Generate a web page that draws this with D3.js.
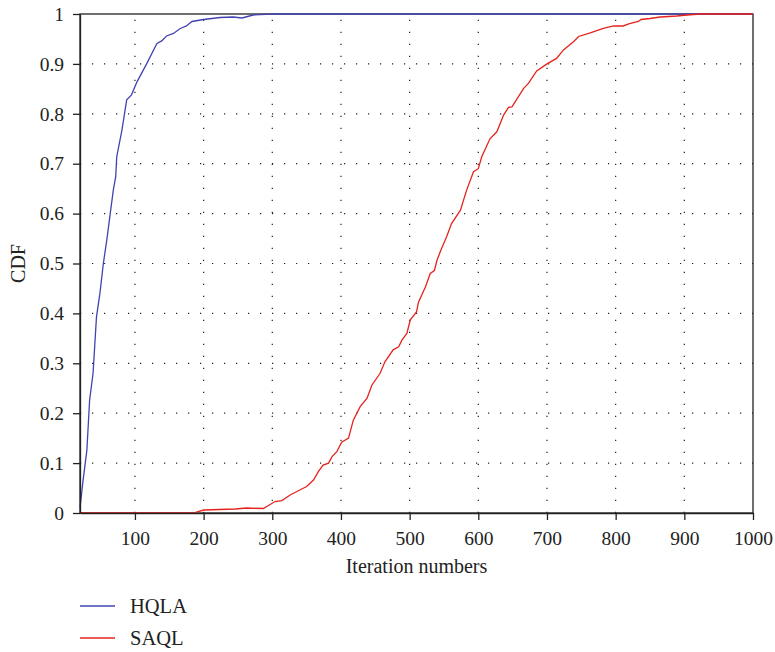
<!DOCTYPE html>
<html>
<head>
<meta charset="utf-8">
<script src="https://cdn.jsdelivr.net/npm/d3@7"></script>
<style>
  body { margin: 0; background: #fff; }
  text { font-family: "Liberation Serif", "DejaVu Serif", serif; fill: #222; }
</style>
</head>
<body>
<script>
// iterations / CDF
var hqlaX = [20, 24, 30, 34, 39, 44, 49, 54, 59, 64, 68.5, 72, 73.5, 81, 88, 95, 103, 117, 132, 139, 146, 156, 166, 175, 183, 200, 224, 243, 256, 272, 300, 1000];
var hqlaY = [0.01, 0.06, 0.126, 0.226, 0.28, 0.393, 0.44, 0.50, 0.547, 0.60, 0.647, 0.674, 0.714, 0.767, 0.828, 0.838, 0.864, 0.90, 0.941, 0.946, 0.956, 0.961, 0.971, 0.976, 0.985, 0.989, 0.993, 0.994, 0.992, 0.998, 1, 1];

var saqlX = [20, 185, 192, 200, 246, 263, 287, 292, 304, 314, 326, 340, 350, 360, 367, 374, 382, 387, 394, 401, 411, 418, 428, 438, 445, 457, 464, 476, 484, 489, 496, 501, 510, 513, 523, 530, 536, 540, 545, 554, 561, 574, 583, 593, 600, 605, 617, 627, 637, 644, 649, 666, 673, 685, 700, 714, 724, 739, 746, 763, 782, 797, 811, 819, 833, 837, 850, 865, 889, 904, 923, 1000];
var saqlY = [0, 0, 0.003, 0.006, 0.008, 0.010, 0.009, 0.013, 0.023, 0.025, 0.036, 0.046, 0.053, 0.066, 0.083, 0.096, 0.10, 0.113, 0.123, 0.142, 0.15, 0.186, 0.213, 0.23, 0.256, 0.28, 0.303, 0.327, 0.333, 0.347, 0.36, 0.387, 0.403, 0.423, 0.453, 0.48, 0.486, 0.507, 0.525, 0.554, 0.58, 0.607, 0.647, 0.684, 0.69, 0.714, 0.75, 0.764, 0.798, 0.813, 0.814, 0.851, 0.861, 0.886, 0.90, 0.911, 0.928, 0.945, 0.955, 0.962, 0.971, 0.976, 0.976, 0.98, 0.985, 0.989, 0.991, 0.994, 0.996, 0.998, 1, 1];

var xTicks = [100, 200, 300, 400, 500, 600, 700, 800, 900, 1000];
var yTicks = [0, 0.1, 0.2, 0.3, 0.4, 0.5, 0.6, 0.7, 0.8, 0.9, 1];

var series = [
  {name: "HQLA", xs: hqlaX, ys: hqlaY, color: "#4343b0"},
  {name: "SAQL", xs: saqlX, ys: saqlY, color: "#e5231e"}
];

var svgWidth = 775, svgHeight = 652;
var margin = {top: 14, right: 22, bottom: 139, left: 80};
var width = svgWidth - margin.left - margin.right;
var height = svgHeight - margin.top - margin.bottom;

var svg = d3.select("body")
    .append("svg")
    .attr("width", svgWidth)
    .attr("height", svgHeight);

var g = svg.append("g")
    .attr("transform", "translate(" + margin.left + "," + margin.top + ")");

var x = d3.scaleLinear().domain([20, 1000]).range([0, width]);
var y = d3.scaleLinear().domain([0, 1]).range([height, 0]);

// dotted grid
g.selectAll(".vgrid")
  .data(xTicks.slice(0, -1))
  .enter()
  .append("line")
  .attr("x1", function(d){ return x(d); })
  .attr("x2", function(d){ return x(d); })
  .attr("y1", height)
  .attr("y2", 0)
  .attr("stroke", "#222")
  .attr("stroke-width", 1.2)
  .attr("stroke-dasharray", "1.2,10.8");

g.selectAll(".hgrid")
  .data(yTicks.slice(1, -1))
  .enter()
  .append("line")
  .attr("x1", 0)
  .attr("x2", width)
  .attr("y1", function(d){ return y(d); })
  .attr("y2", function(d){ return y(d); })
  .attr("stroke", "#222")
  .attr("stroke-width", 1.2)
  .attr("stroke-dasharray", "1.2,10.8");

// frame
g.append("rect")
  .attr("width", width)
  .attr("height", height)
  .attr("fill", "none")
  .attr("stroke", "#222")
  .attr("stroke-width", 1.3);

var line = d3.line()
  .x(function(d){ return x(d[0]); })
  .y(function(d){ return y(d[1]); });

series.forEach(function(s){
  g.append("path")
    .datum(d3.zip(s.xs, s.ys))
    .attr("fill", "none")
    .attr("stroke", s.color)
    .attr("stroke-width", 1.3)
    .attr("d", line);
});

var xAxis = g.append("g")
  .attr("transform", "translate(0," + height + ")")
  .call(d3.axisBottom(x).tickValues(xTicks).tickSize(7).tickPadding(11).tickSizeOuter(0)
        .tickFormat(d3.format("d")));

var yAxis = g.append("g")
  .call(d3.axisLeft(y).tickValues(yTicks).tickSize(7).tickPadding(9).tickSizeOuter(0)
        .tickFormat(function(d){ return String(+d.toFixed(1)); }));

[xAxis, yAxis].forEach(function(a){
  a.select(".domain").attr("stroke", "#222").attr("stroke-width", 1.3);
  a.selectAll(".tick line").attr("stroke", "#222").attr("stroke-width", 1.3);
  a.selectAll(".tick text")
    .attr("font-family", "Liberation Serif")
    .attr("font-size", 19.5)
    .attr("fill", "#222");
});

svg.append("text")
  .attr("x", margin.left + width / 2)
  .attr("y", 573)
  .attr("text-anchor", "middle")
  .attr("font-size", 20)
  .text("Iteration numbers");

svg.append("text")
  .attr("transform", "translate(25," + (margin.top + height / 2) + ") rotate(-90)")
  .attr("text-anchor", "middle")
  .attr("font-size", 20)
  .text("CDF");

// legend
var legend = svg.selectAll(".legend")
  .data(series)
  .enter()
  .append("g")
  .attr("transform", function(d, i){ return "translate(80," + (606 + i * 32) + ")"; });

legend.append("line")
  .attr("x1", 0)
  .attr("x2", 35)
  .attr("stroke", function(d){ return d.color; })
  .attr("stroke-width", 1.3);

legend.append("text")
  .attr("x", 50)
  .attr("y", 7)
  .attr("font-size", 20.5)
  .text(function(d){ return d.name; });
</script>
</body>
</html>
